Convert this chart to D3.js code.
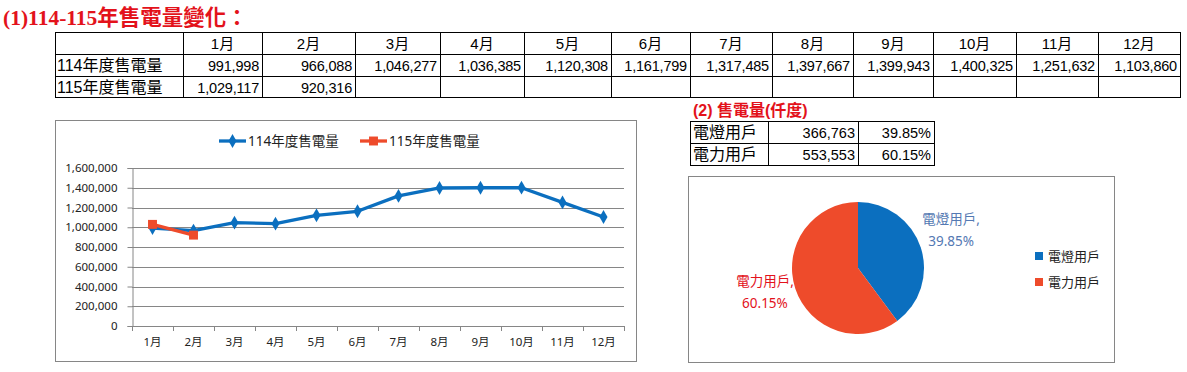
<!DOCTYPE html>
<html>
<head>
<meta charset="utf-8">
<title>114-115年售電量變化</title>
<style>
body { margin: 0; background: #fff; }
svg { display: block; }
text { font-family: "Liberation Sans", "Noto Sans CJK TC", sans-serif; }
</style>
</head>
<body>
<svg id="chart" width="1187" height="372"></svg>
<script src="https://cdn.jsdelivr.net/npm/d3@7"></script>
<script>
// data
const months = ["1月", "2月", "3月", "4月", "5月", "6月", "7月", "8月", "9月", "10月", "11月", "12月"];
const seriesNames = ["114年度售電量", "115年度售電量"];
const sales114 = [991998, 966088, 1046277, 1036385, 1120308, 1161799, 1317485, 1397667, 1399943, 1400325, 1251632, 1103860];
const sales115 = [1029117, 920316];
const yTicks = [0, 200000, 400000, 600000, 800000, 1000000, 1200000, 1400000, 1600000];
const userTypes = ["電燈用戶", "電力用戶"];
const userSales = [366763, 553553];

const svg = d3.select("#chart");
const fmt = d3.format(",");
const pct = d3.format(".2%");
const blue = "#0b6fbf", red = "#ee4b2b", titleRed = "#e3121b";

// ---- title
svg.append("text")
  .attr("x", 3).attr("y", 25)
  .attr("fill", titleRed)
  .style("font-family", "'Liberation Serif', 'Noto Sans CJK TC', serif")
  .style("font-size", "21.5px").style("font-weight", "bold")
  .text("(1)114-115年售電量變化：");

// ---- monthly table
const colX = [55, 183, 262, 355, 440, 524, 611, 690, 772, 853, 933, 1016, 1098, 1180];
const rowY = [32, 54, 76, 97];
const tbl = svg.append("g").attr("stroke", "#000").attr("stroke-width", 1);
colX.forEach(x => tbl.append("line").attr("x1", x + .5).attr("x2", x + .5).attr("y1", rowY[0]).attr("y2", rowY[3] + 1));
rowY.forEach(y => tbl.append("line").attr("x1", colX[0]).attr("x2", colX[colX.length - 1] + 1).attr("y1", y + .5).attr("y2", y + .5));

svg.append("g").selectAll("text").data(months).join("text")
  .attr("x", (d, i) => (colX[i + 1] + colX[i + 2]) / 2)
  .attr("y", rowY[0] + 17)
  .attr("text-anchor", "middle")
  .style("font-size", "15px")
  .text(d => d);

[sales114, sales115].forEach((vals, r) => {
  svg.append("text")
    .attr("x", colX[0] + 2).attr("y", rowY[r + 1] + 17)
    .style("font-size", "16px")
    .text(seriesNames[r]);
  svg.append("g").selectAll("text").data(vals).join("text")
    .attr("x", (d, i) => colX[i + 2] - 3)
    .attr("y", rowY[r + 1] + 17)
    .attr("text-anchor", "end")
    .style("font-size", "14.5px").style("letter-spacing", "-0.2px")
    .text(d => fmt(d));
});

// ---- line chart
svg.append("rect").attr("x", 55.5).attr("y", 120.5).attr("width", 581).attr("height", 241)
  .attr("fill", "#fff").attr("stroke", "#868686");

const x = d3.scaleBand().domain(months).range([132, 624]);
const y = d3.scaleLinear().domain([0, 1600000]).range([326, 168]);
const cx = m => x(m) + x.bandwidth() / 2;

const grid = svg.append("g").attr("stroke", "#868686");
yTicks.forEach(t => grid.append("line")
  .attr("x1", x.range()[0]).attr("x2", x.range()[1])
  .attr("y1", Math.round(y(t)) + .5).attr("y2", Math.round(y(t)) + .5));

const yAxis = svg.append("g").attr("transform", "translate(132.5,0)")
  .call(d3.axisLeft(y).tickValues(yTicks).tickSize(5).tickPadding(10).tickFormat(fmt));
yAxis.select(".domain").attr("stroke", "#868686");
yAxis.selectAll(".tick line").attr("stroke", "#868686");
yAxis.selectAll("text").style("font-family", "'Noto Sans', sans-serif").style("font-size", "11.5px").attr("fill", "#222");

const xTickPos = months.map(m => x(m)).concat([x.range()[1]]);
svg.append("g").selectAll("line").data(xTickPos).join("line")
  .attr("x1", d => Math.round(d) + .5).attr("x2", d => Math.round(d) + .5)
  .attr("y1", 326).attr("y2", 331).attr("stroke", "#868686");
svg.append("g").selectAll("text").data(months).join("text")
  .attr("x", cx).attr("y", 346)
  .attr("text-anchor", "middle")
  .style("font-family", "'Noto Sans', 'Noto Sans CJK TC', sans-serif").style("font-size", "11.5px")
  .attr("fill", "#222")
  .text(d => d);

const line = d3.line().x((d, i) => cx(months[i])).y(d => y(d));
const series = [
  { name: seriesNames[0], vals: sales114, color: blue, sym: d3.symbolDiamond, size: 55 },
  { name: seriesNames[1], vals: sales115, color: red, sym: d3.symbolSquare, size: 80 }
];
series.forEach(s => {
  svg.append("path").datum(s.vals).attr("d", line)
    .attr("fill", "none").attr("stroke", s.color).attr("stroke-width", 3.3).attr("stroke-linejoin", "round");
  svg.append("g").selectAll("path").data(s.vals).join("path")
    .attr("transform", (d, i) => `translate(${cx(months[i])},${y(d)})`)
    .attr("d", d3.symbol(s.sym, s.size)).attr("fill", s.color);
});

// legend
series.forEach((s, i) => {
  const lx = 219 + i * 141, ly = 141;
  svg.append("line").attr("x1", lx).attr("x2", lx + 27).attr("y1", ly).attr("y2", ly)
    .attr("stroke", s.color).attr("stroke-width", 3.3);
  svg.append("path").attr("transform", `translate(${lx + 13.5},${ly})`)
    .attr("d", d3.symbol(s.sym, s.size)).attr("fill", s.color);
  svg.append("text").attr("x", lx + 29).attr("y", ly + 5)
    .style("font-family", "'Noto Sans', 'Noto Sans CJK TC', sans-serif").style("font-size", "13.5px")
    .attr("fill", "#222").text(s.name);
});

// ---- (2) table
svg.append("text")
  .attr("x", 693).attr("y", 116)
  .attr("fill", titleRed)
  .style("font-size", "16px").style("font-weight", "bold")
  .text("(2) 售電量(仟度)");

const total = d3.sum(userSales);
const colX2 = [690, 768, 858, 934];
const rowY2 = [121, 143, 165];
const tbl2 = svg.append("g").attr("stroke", "#000");
colX2.forEach(xx => tbl2.append("line").attr("x1", xx + .5).attr("x2", xx + .5).attr("y1", rowY2[0]).attr("y2", rowY2[2] + 1));
rowY2.forEach(yy => tbl2.append("line").attr("x1", colX2[0]).attr("x2", colX2[3] + 1).attr("y1", yy + .5).attr("y2", yy + .5));
userTypes.forEach((u, i) => {
  const by = rowY2[i] + 17;
  svg.append("text").attr("x", colX2[0] + 3).attr("y", by).style("font-size", "16px").text(u);
  svg.append("text").attr("x", colX2[2] - 3).attr("y", by).attr("text-anchor", "end").style("font-size", "14.5px").text(fmt(userSales[i]));
  svg.append("text").attr("x", colX2[3] - 3).attr("y", by).attr("text-anchor", "end").style("font-size", "14.5px").text(pct(userSales[i] / total));
});

// ---- pie chart
svg.append("rect").attr("x", 688.5).attr("y", 176.5).attr("width", 426).attr("height", 186)
  .attr("fill", "#fff").attr("stroke", "#868686");

const pieColors = [blue, red];
const labelColors = ["#5479b3", "#e3121b"];
const pc = [858, 268], R = 66;
const arcs = d3.pie().sort(null)(userSales);
const arc = d3.arc().innerRadius(0).outerRadius(R);
const labelArc = d3.arc().innerRadius(98).outerRadius(98);
const pg = svg.append("g").attr("transform", `translate(${pc[0]},${pc[1]})`);
pg.selectAll("path").data(arcs).join("path")
  .attr("d", arc).attr("fill", (d, i) => pieColors[i]);

arcs.forEach((a, i) => {
  const [lx, ly] = labelArc.centroid(a);
  const t = pg.append("text").attr("text-anchor", "middle")
    .attr("fill", labelColors[i])
    .style("font-family", "'Noto Sans', 'Noto Sans CJK TC', sans-serif").style("font-size", "13.5px");
  t.append("tspan").attr("x", lx).attr("y", ly - 13).text(userTypes[i] + ",");
  t.append("tspan").attr("x", lx).attr("y", ly + 9).text(pct(a.data / total));
});

userTypes.forEach((u, i) => {
  const ly = 256 + i * 26;
  svg.append("rect").attr("x", 1035).attr("y", ly - 4).attr("width", 8).attr("height", 8).attr("fill", pieColors[i]);
  svg.append("text").attr("x", 1048).attr("y", ly + 5)
    .style("font-family", "'Noto Sans', 'Noto Sans CJK TC', sans-serif").style("font-size", "13px")
    .attr("fill", "#222").text(u);
});
</script>
</body>
</html>
